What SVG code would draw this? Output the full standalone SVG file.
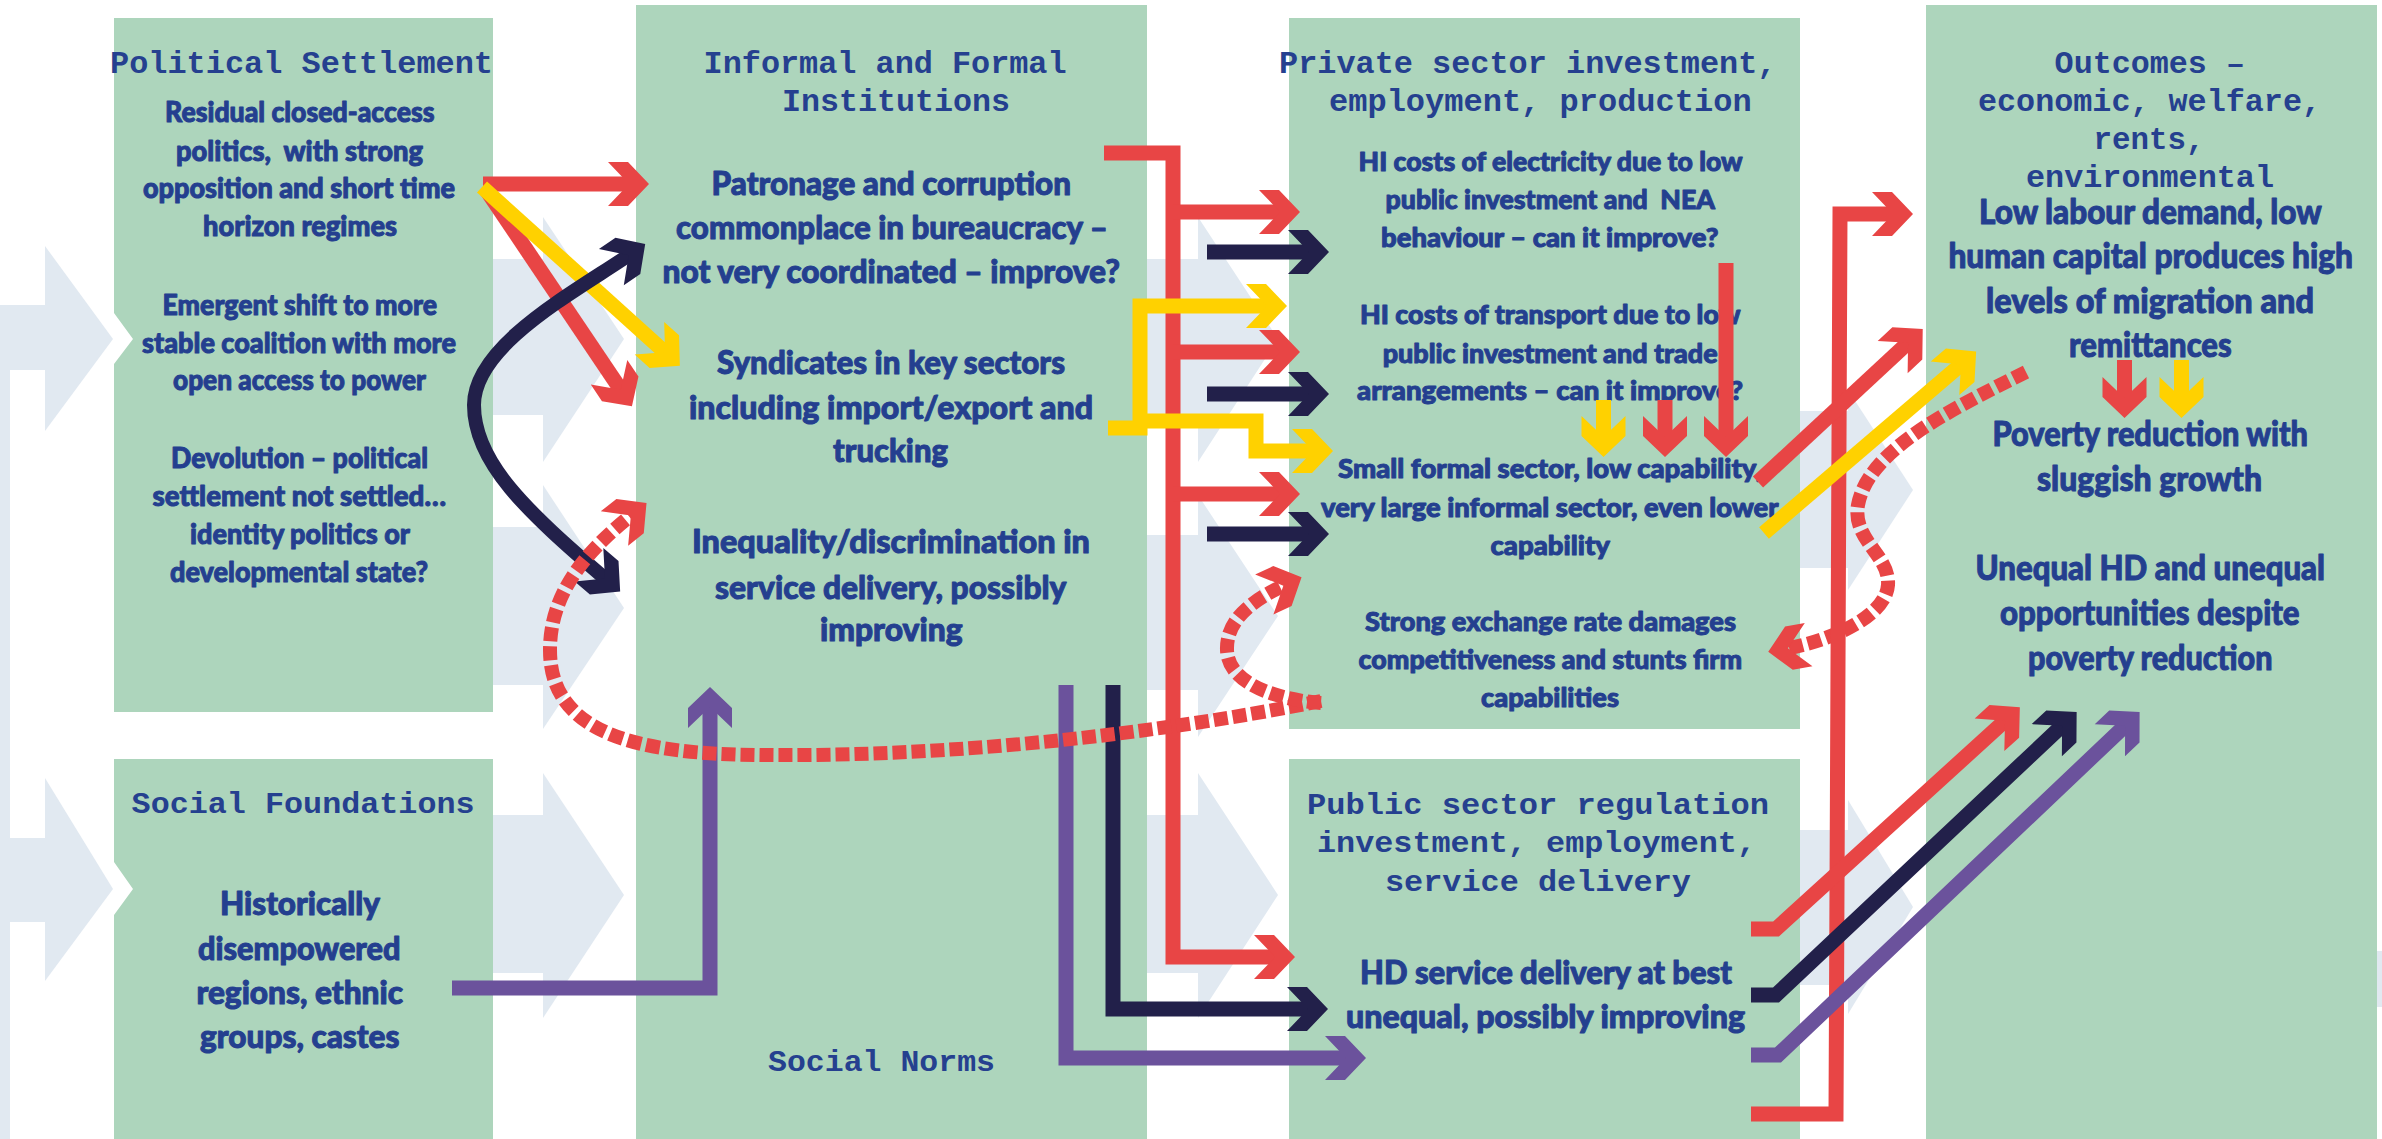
<svg xmlns="http://www.w3.org/2000/svg" width="2382" height="1139" viewBox="0 0 2382 1139">
  <defs>
    <style>
      .box{fill:#add5bc}
      .bg{fill:#e1e9f1}
      .t{font-family:"Liberation Mono","DejaVu Sans Mono",monospace;font-weight:700;fill:#25408f;font-size:31px}
      .t2{font-family:"Liberation Mono","DejaVu Sans Mono",monospace;font-weight:700;fill:#25408f;font-size:29px}
      .b{font-family:Lato,"Liberation Sans",sans-serif;font-weight:900;fill:#243f8f;stroke:#243f8f;stroke-width:1px;stroke-linejoin:round}
      .f27{font-size:27px}
      .f29{font-size:29px}
      .f31{font-size:32px}
      .f33{font-size:33px}
      .f35{font-size:35px}
      .ln{fill:none;stroke-width:15;stroke-linejoin:miter;stroke-linecap:butt}
      .dash{stroke-width:14;stroke-dasharray:14 5}
      .red{stroke:#e84545}
      .yel{stroke:#ffd100}
      .nav{stroke:#22204a}
      .pur{stroke:#6b529c}
    </style>
    <marker id="hR" viewBox="-45 -25 50 50" markerWidth="50" markerHeight="50" refX="-16" refY="0" orient="auto-start-reverse" markerUnits="userSpaceOnUse">
      <path d="M0,0 L-21,-22 H-41 L-20,0 L-41,22 H-21 Z" fill="#e84545"/>
    </marker>
    <marker id="hY" viewBox="-45 -25 50 50" markerWidth="50" markerHeight="50" refX="-16" refY="0" orient="auto-start-reverse" markerUnits="userSpaceOnUse">
      <path d="M0,0 L-21,-22 H-41 L-20,0 L-41,22 H-21 Z" fill="#ffd100"/>
    </marker>
    <marker id="hN" viewBox="-45 -25 50 50" markerWidth="50" markerHeight="50" refX="-16" refY="0" orient="auto-start-reverse" markerUnits="userSpaceOnUse">
      <path d="M0,0 L-21,-22 H-41 L-20,0 L-41,22 H-21 Z" fill="#22204a"/>
    </marker>
    <marker id="hP" viewBox="-45 -25 50 50" markerWidth="50" markerHeight="50" refX="-16" refY="0" orient="auto-start-reverse" markerUnits="userSpaceOnUse">
      <path d="M0,0 L-21,-22 H-41 L-20,0 L-41,22 H-21 Z" fill="#6b529c"/>
    </marker>
  </defs>

  <rect width="2382" height="1139" fill="#ffffff"/>

  <!-- pale flow chevrons behind the columns -->
  <g id="background">
    <rect class="bg" x="0" y="305" width="10" height="834"/>
    <rect class="bg" x="0" y="305" width="45" height="65"/>
    <polygon class="bg" points="45,246 113,339 45,431"/>
    <rect class="bg" x="0" y="838" width="45" height="84"/>
    <polygon class="bg" points="45,778 113,889 45,981"/>

    <rect class="bg" x="493" y="259" width="50" height="156"/>
    <polygon class="bg" points="543,217 624,339 543,462"/>
    <rect class="bg" x="493" y="527" width="50" height="158"/>
    <polygon class="bg" points="543,485 624,608 543,729"/>
    <rect class="bg" x="493" y="815" width="50" height="158"/>
    <polygon class="bg" points="543,773 624,895 543,1018"/>

    <rect class="bg" x="1147" y="259" width="51" height="156"/>
    <polygon class="bg" points="1198,217 1278,339 1198,462"/>
    <rect class="bg" x="1147" y="535" width="51" height="155"/>
    <polygon class="bg" points="1198,495 1278,616 1198,737"/>
    <rect class="bg" x="1147" y="815" width="51" height="158"/>
    <polygon class="bg" points="1198,773 1278,895 1198,1018"/>

    <rect class="bg" x="1800" y="411" width="48" height="157"/>
    <polygon class="bg" points="1848,390 1913,490 1848,590"/>
    <rect class="bg" x="1800" y="830" width="48" height="155"/>
    <polygon class="bg" points="1848,800 1913,907 1848,1014"/>

    <rect class="bg" x="2370" y="951" width="12" height="56"/>
  </g>

  <g id="node-political-settlement">
    <polygon class="box" points="114,18 493,18 493,712 114,712 114,364 133,339 114,313"/>
    <text class="t" x="110" y="72.5" textLength="383" lengthAdjust="spacingAndGlyphs">Political Settlement</text>
    <text class="b f29" x="165" y="122" textLength="269.5" lengthAdjust="spacingAndGlyphs">Residual closed-access</text>
    <text class="b f29" x="176" y="161" textLength="247" lengthAdjust="spacingAndGlyphs" xml:space="preserve">politics,  with strong</text>
    <text class="b f29" x="143" y="198" textLength="312" lengthAdjust="spacingAndGlyphs">opposition and short time</text>
    <text class="b f29" x="203" y="236" textLength="194" lengthAdjust="spacingAndGlyphs">horizon regimes</text>
    <text class="b f29" x="162.5" y="314.5" textLength="274.5" lengthAdjust="spacingAndGlyphs">Emergent shift to more</text>
    <text class="b f29" x="142" y="352.6" textLength="314" lengthAdjust="spacingAndGlyphs">stable coalition with more</text>
    <text class="b f29" x="173" y="390" textLength="253" lengthAdjust="spacingAndGlyphs">open access to power</text>
    <text class="b f29" x="171" y="468" textLength="257" lengthAdjust="spacingAndGlyphs">Devolution – political</text>
    <text class="b f29" x="152.5" y="506" textLength="293.5" lengthAdjust="spacingAndGlyphs">settlement not settled…</text>
    <text class="b f29" x="190" y="544" textLength="220" lengthAdjust="spacingAndGlyphs">identity politics or</text>
    <text class="b f29" x="170" y="582" textLength="258" lengthAdjust="spacingAndGlyphs">developmental state?</text>
  </g>

  <g id="node-social-foundations">
    <polygon class="box" points="114,759 493,759 493,1139 114,1139 114,915 133,889 114,862"/>
    <text class="t2" x="131.6" y="812.7" textLength="343" lengthAdjust="spacingAndGlyphs">Social Foundations</text>
    <text class="b f31" x="220" y="915" textLength="160" lengthAdjust="spacingAndGlyphs">Historically</text>
    <text class="b f31" x="198" y="960" textLength="202.5" lengthAdjust="spacingAndGlyphs">disempowered</text>
    <text class="b f31" x="196.4" y="1004" textLength="206.6" lengthAdjust="spacingAndGlyphs">regions, ethnic</text>
    <text class="b f31" x="200" y="1048" textLength="199.5" lengthAdjust="spacingAndGlyphs">groups, castes</text>
  </g>

  <g id="node-institutions">
    <rect class="box" x="636" y="5" width="511" height="1134"/>
    <text class="t" x="703.6" y="72.5" textLength="363" lengthAdjust="spacingAndGlyphs">Informal and Formal</text>
    <text class="t" x="782" y="111" textLength="228" lengthAdjust="spacingAndGlyphs">Institutions</text>
    <text class="b f33" x="711.6" y="195" textLength="359.4" lengthAdjust="spacingAndGlyphs">Patronage and corruption</text>
    <text class="b f33" x="676" y="239" textLength="432" lengthAdjust="spacingAndGlyphs">commonplace in bureaucracy –</text>
    <text class="b f33" x="662.5" y="283" textLength="457.5" lengthAdjust="spacingAndGlyphs">not very coordinated – improve?</text>
    <text class="b f33" x="717" y="374" textLength="348" lengthAdjust="spacingAndGlyphs">Syndicates in key sectors</text>
    <text class="b f33" x="689" y="419" textLength="404" lengthAdjust="spacingAndGlyphs">including import/export and</text>
    <text class="b f33" x="833" y="461.5" textLength="115" lengthAdjust="spacingAndGlyphs">trucking</text>
    <text class="b f33" x="692" y="553" textLength="398" lengthAdjust="spacingAndGlyphs">Inequality/discrimination in</text>
    <text class="b f33" x="715" y="599" textLength="351.5" lengthAdjust="spacingAndGlyphs">service delivery, possibly</text>
    <text class="b f33" x="820" y="640.5" textLength="142.5" lengthAdjust="spacingAndGlyphs">improving</text>
    <text class="t2" x="768" y="1071" textLength="227" lengthAdjust="spacingAndGlyphs">Social Norms</text>
  </g>

  <g id="node-private-sector">
    <rect class="box" x="1289" y="18" width="511" height="711"/>
    <text class="t" x="1279" y="72.5" textLength="497.5" lengthAdjust="spacingAndGlyphs">Private sector investment,</text>
    <text class="t" x="1329" y="111" textLength="422.6" lengthAdjust="spacingAndGlyphs">employment, production</text>
    <text class="b f27" x="1358.6" y="171" textLength="384" lengthAdjust="spacingAndGlyphs">HI costs of electricity due to low</text>
    <text class="b f27" x="1385.6" y="209" textLength="329.4" lengthAdjust="spacingAndGlyphs" xml:space="preserve">public investment and  NEA</text>
    <text class="b f27" x="1381" y="247" textLength="337.5" lengthAdjust="spacingAndGlyphs">behaviour – can it improve?</text>
    <text class="b f27" x="1360" y="323.7" textLength="380.5" lengthAdjust="spacingAndGlyphs">HI costs of transport due to low</text>
    <text class="b f27" x="1382.7" y="362.7" textLength="335" lengthAdjust="spacingAndGlyphs">public investment and trade</text>
    <text class="b f27" x="1357" y="400" textLength="386" lengthAdjust="spacingAndGlyphs">arrangements – can it improve?</text>
    <text class="b f27" x="1338" y="477.5" textLength="424" lengthAdjust="spacingAndGlyphs">Small formal sector, low capability,</text>
    <text class="b f27" x="1321" y="516.5" textLength="457.6" lengthAdjust="spacingAndGlyphs">very large informal sector, even lower</text>
    <text class="b f27" x="1490.5" y="554.6" textLength="119.5" lengthAdjust="spacingAndGlyphs">capability</text>
    <text class="b f27" x="1365" y="631" textLength="371" lengthAdjust="spacingAndGlyphs">Strong exchange rate damages</text>
    <text class="b f27" x="1358.6" y="669.4" textLength="383.4" lengthAdjust="spacingAndGlyphs">competitiveness and stunts firm</text>
    <text class="b f27" x="1481" y="707" textLength="138" lengthAdjust="spacingAndGlyphs">capabilities</text>
  </g>

  <g id="node-public-sector">
    <rect class="box" x="1289" y="759" width="511" height="380"/>
    <text class="t2" x="1307" y="814" textLength="462" lengthAdjust="spacingAndGlyphs">Public sector regulation</text>
    <text class="t2" x="1317" y="851.7" textLength="439" lengthAdjust="spacingAndGlyphs">investment, employment,</text>
    <text class="t2" x="1385" y="890.7" textLength="306" lengthAdjust="spacingAndGlyphs">service delivery</text>
    <text class="b f31" x="1360" y="984" textLength="372" lengthAdjust="spacingAndGlyphs">HD service delivery at best</text>
    <text class="b f31" x="1346" y="1028" textLength="399" lengthAdjust="spacingAndGlyphs">unequal, possibly improving</text>
  </g>

  <g id="node-outcomes">
    <rect class="box" x="1926" y="5" width="451" height="1134"/>
    <text class="t" x="2054.6" y="72.5" textLength="190.4" lengthAdjust="spacingAndGlyphs">Outcomes –</text>
    <text class="t" x="1978" y="111" textLength="343" lengthAdjust="spacingAndGlyphs">economic, welfare,</text>
    <text class="t" x="2093.6" y="149" textLength="111" lengthAdjust="spacingAndGlyphs">rents,</text>
    <text class="t" x="2026" y="187" textLength="248" lengthAdjust="spacingAndGlyphs">environmental</text>
    <text class="b f35" x="1979" y="223.6" textLength="342.7" lengthAdjust="spacingAndGlyphs">Low labour demand, low</text>
    <text class="b f35" x="1948.4" y="267.7" textLength="404.6" lengthAdjust="spacingAndGlyphs">human capital produces high</text>
    <text class="b f35" x="1986" y="313" textLength="328" lengthAdjust="spacingAndGlyphs">levels of migration and</text>
    <text class="b f35" x="2069" y="357" textLength="162.7" lengthAdjust="spacingAndGlyphs">remittances</text>
    <text class="b f35" x="1992.5" y="446" textLength="315.5" lengthAdjust="spacingAndGlyphs">Poverty reduction with</text>
    <text class="b f35" x="2037" y="491" textLength="225" lengthAdjust="spacingAndGlyphs">sluggish growth</text>
    <text class="b f35" x="1975.5" y="580" textLength="349.5" lengthAdjust="spacingAndGlyphs">Unequal HD and unequal</text>
    <text class="b f35" x="2000" y="625" textLength="299.6" lengthAdjust="spacingAndGlyphs">opportunities despite</text>
    <text class="b f35" x="2028" y="670" textLength="244.5" lengthAdjust="spacingAndGlyphs">poverty reduction</text>
  </g>

  <g id="connectors">
    <!-- political settlement to institutions -->
    <path class="ln red" d="M483,184 H633" marker-end="url(#hR)"/>
    <path class="ln red" d="M485,188 L623,393" marker-end="url(#hR)"/>
    <path class="ln yel" d="M482,187 L668,355" marker-end="url(#hY)"/>
    <path class="ln nav" style="stroke-width:14" d="M632,253 C575,292 474,345 474,405 C474,462 525,510 608,581" marker-start="url(#hN)" marker-end="url(#hN)"/>
    <!-- social foundations up to institutions -->
    <path class="ln pur" d="M452,988 H710 V703" marker-end="url(#hP)"/>

    <!-- institutions to private and public sector -->
    <path class="ln red" d="M1104,153 H1173 V957 H1279" marker-end="url(#hR)"/>
    <path class="ln red" d="M1173,212 H1284" marker-end="url(#hR)"/>
    <path class="ln red" d="M1173,352 H1284" marker-end="url(#hR)"/>
    <path class="ln red" d="M1173,494 H1284" marker-end="url(#hR)"/>
    <path class="ln nav" d="M1207,252 H1313" marker-end="url(#hN)"/>
    <path class="ln nav" d="M1207,394 H1313" marker-end="url(#hN)"/>
    <path class="ln nav" d="M1207,534 H1313" marker-end="url(#hN)"/>
    <path class="ln yel" d="M1108,428 H1140 V306 H1271" marker-end="url(#hY)"/>
    <path class="ln yel" d="M1140,421 H1256 V451 H1317" marker-end="url(#hY)"/>
    <path class="ln nav" d="M1113,685 V1009 H1312" marker-end="url(#hN)"/>
    <path class="ln pur" d="M1066,685 V1058 H1350" marker-end="url(#hP)"/>

    <!-- within private sector -->
    <path class="ln red" d="M1726,263 V441" marker-end="url(#hR)"/>
    <path class="ln red" d="M1665,400 V441" marker-end="url(#hR)"/>
    <path class="ln yel" d="M1603.5,400 V441" marker-end="url(#hY)"/>

    <!-- feedback loops (dashed) -->
    <path class="ln red dash" d="M1321,701 C1150,735 950,757 760,755 C640,754 550,735 550,650 C550,590 590,548 634,513" marker-end="url(#hR)"/>
    <path class="ln red dash" d="M1321,703 C1280,700 1228,685 1227,650 C1226,620 1252,600 1287,584" marker-end="url(#hR)"/>
    <path class="ln red dash" d="M2026,372 C1950,410 1868,450 1858,505 C1852,540 1890,555 1888,585 C1886,615 1835,640 1784,649" marker-end="url(#hR)"/>

    <!-- private and public sector to outcomes -->
    <path class="ln red" d="M1751,1114 H1836 L1840,214 H1897" marker-end="url(#hR)"/>
    <path class="ln red" d="M1758,482 L1911,340" marker-end="url(#hR)"/>
    <path class="ln yel" d="M1764,533 L1964,362" marker-end="url(#hY)"/>
    <path class="ln red" d="M1751,929 H1776 L2008,718" marker-end="url(#hR)"/>
    <path class="ln nav" d="M1751,995 H1776 L2065,723" marker-end="url(#hN)"/>
    <path class="ln pur" d="M1751,1055 H1778 L2128,723" marker-end="url(#hP)"/>

    <!-- within outcomes -->
    <path class="ln red" d="M2124.5,360 V402" marker-end="url(#hR)"/>
    <path class="ln yel" d="M2181.5,360 V402" marker-end="url(#hY)"/>
  </g>
</svg>
